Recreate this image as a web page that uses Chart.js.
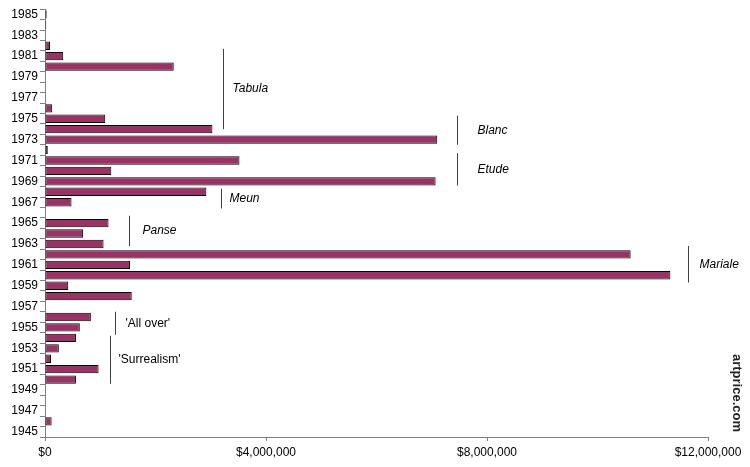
<!DOCTYPE html>
<html lang="en">
<head>
    <meta charset="UTF-8">
    <title>Auction turnover by year of creation</title>
    <script src="https://cdn.jsdelivr.net/npm/chart.js"></script>
    <style>
        html, body { margin: 0; padding: 0; background: #ffffff; }
        .wrap { position: relative; width: 750px; height: 467px; }
    </style>
</head>
<body>
    <div class="wrap">
        <canvas id="yearChart" width="750" height="467"></canvas>
    </div>

    <script>
        // Années de création (de bas en haut) et chiffre d'affaires en $
        const years = [];
        for (let y = 1945; y <= 1985; y++) years.push(String(y));

        const turnover = [
            0, 120000, 0, 0, 0, 560000, 970000, 110000, 250000, 560000,       // 1945-1954
            630000, 830000, 0, 1570000, 420000, 11320000, 1540000, 10600000,  // 1955-1962
            1060000, 690000, 1150000, 0, 480000, 2920000, 7070000, 1200000,   // 1963-1970
            3520000, 50000, 7100000, 3030000, 1090000, 130000, 0, 0, 0,       // 1971-1979
            2330000, 330000, 90000, 0, 22000, 30000                           // 1980-1985
        ];

        const xTicks = [0, 4000000, 8000000, 12000000];

        // Séries / périodes annotées : position du trait (en $), années couvertes
        const periodNames = ['Tabula', 'Blanc', 'Etude', 'Meun', 'Panse', 'Mariale', "'All over'", "'Surrealism'"];
        const periodLineAt = [3230000, 7450000, 7450000, 3180000, 1520000, 11630000, 1260000, 1170000];
        const periodFrom = [1974.0, 1972.5, 1968.6, 1966.4, 1962.8, 1959.3, 1954.3, 1949.6];
        const periodTo = [1981.7, 1975.3, 1971.7, 1968.3, 1965.7, 1962.8, 1956.5, 1954.2];
        const periodItalic = [true, true, true, true, true, true, false, false];
        const periodGap = [9, 20, 20, 8, 13, 11, 10, 8];

        const periodsPlugin = {
            id: 'periods',
            afterDatasetsDraw(chart) {
                const ctx = chart.ctx;
                const xs = chart.scales.x;
                const ys = chart.scales.y;
                ctx.save();
                periodNames.forEach((name, i) => {
                    const x = Math.round(xs.getPixelForValue(periodLineAt[i])) + 0.5;
                    const y1 = ys.getPixelForValue(periodFrom[i] - 1945);
                    const y2 = ys.getPixelForValue(periodTo[i] - 1945);
                    ctx.strokeStyle = '#404040';
                    ctx.lineWidth = 1;
                    ctx.beginPath();
                    ctx.moveTo(x, y1);
                    ctx.lineTo(x, y2);
                    ctx.stroke();
                    ctx.fillStyle = '#000000';
                    ctx.font = (periodItalic[i] ? 'italic ' : '') + '12px "Liberation Sans", Arial, sans-serif';
                    ctx.textAlign = 'left';
                    ctx.textBaseline = 'middle';
                    ctx.fillText(name, x + periodGap[i], (y1 + y2) / 2);
                });
                // filigrane
                ctx.translate(737, 393);
                ctx.rotate(Math.PI / 2);
                ctx.font = 'bold 13px "Liberation Sans", Arial, sans-serif';
                ctx.fillStyle = '#222222';
                ctx.textAlign = 'center';
                ctx.textBaseline = 'middle';
                ctx.fillText('artprice.com', 0, 0);
                ctx.restore();
            }
        };

        const ctx = document.getElementById('yearChart').getContext('2d');
        new Chart(ctx, {
            type: 'bar',
            data: {
                labels: years,
                datasets: [{
                    data: turnover,
                    backgroundColor: '#993366',
                    borderColor: '#000000',
                    borderWidth: 1,
                    borderSkipped: false,
                    categoryPercentage: 1,
                    barPercentage: 0.8
                }]
            },
            options: {
                indexAxis: 'y',
                responsive: false,
                animation: false,
                layout: { padding: { top: 7, right: 42, left: 0, bottom: 0 } },
                plugins: {
                    legend: { display: false },
                    tooltip: { enabled: false }
                },
                scales: {
                    x: {
                        min: 0,
                        max: 12000000,
                        afterBuildTicks: (scale) => { scale.ticks = xTicks.map(v => ({ value: v })); },
                        afterFit: (scale) => { scale.height = 30; },
                        grid: { drawOnChartArea: false, tickLength: 4, color: '#808080' },
                        border: { color: '#808080' },
                        ticks: {
                            color: '#000000',
                            padding: 4,
                            maxRotation: 0,
                            font: { family: '"Liberation Sans", Arial, sans-serif', size: 12 },
                            callback: (v) => '$' + Number(v).toLocaleString('en-US')
                        }
                    },
                    y: {
                        reverse: true,
                        offset: true,
                        afterFit: (scale) => { scale.width = 45; },
                        grid: { drawOnChartArea: false, offset: true, tickLength: 5, color: '#808080' },
                        border: { color: '#808080' },
                        ticks: {
                            autoSkip: false,
                            color: '#000000',
                            padding: 2,
                            font: { family: '"Liberation Sans", Arial, sans-serif', size: 12 },
                            callback: function (v, i) {
                                const yr = years[i];
                                return Number(yr) % 2 === 1 ? yr : '';
                            }
                        }
                    }
                }
            },
            plugins: [periodsPlugin]
        });
    </script>
</body>
</html>
